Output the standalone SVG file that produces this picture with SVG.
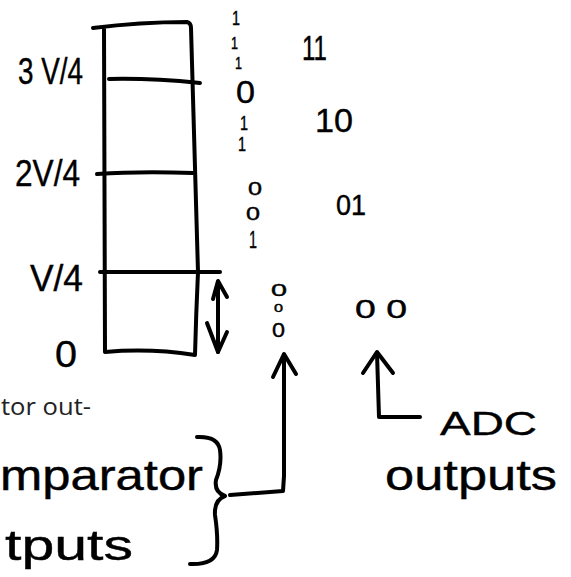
<svg xmlns="http://www.w3.org/2000/svg" width="571" height="577" viewBox="0 0 571 577">
<defs>
<style>
.ink{fill:none;stroke:#000;stroke-width:4;stroke-linecap:round;stroke-linejoin:round}
.hw{font-family:"Liberation Sans","DejaVu Sans",sans-serif;fill:#000;stroke:#000;stroke-width:0.4}
.print{font-family:"Open Sans","Noto Sans",sans-serif;fill:#222}
</style>
</defs>
<rect width="571" height="577" fill="#fff"/>
<g id="scale-box">
<path class="ink" d="M93 28 Q140 22 187 22 Q191 23 191 28 Q194 150 198 272 Q196 315 195 355 Q150 348 105 352 L104 28"/>
<path class="ink" d="M109 79 Q150 78 200 83"/>
<path class="ink" d="M97 174 Q140 171 193 173"/>
<path class="ink" d="M100 272 L220 272"/>
</g>
<g id="labels">
<text class="hw" x="18" y="84" font-size="36" textLength="65" lengthAdjust="spacingAndGlyphs">3 V/4</text>
<text class="hw" x="15" y="186" font-size="36" textLength="65" lengthAdjust="spacingAndGlyphs">2V/4</text>
<text class="hw" x="30" y="291" font-size="36" textLength="53" lengthAdjust="spacingAndGlyphs">V/4</text>
<text class="hw" x="55" y="367" font-size="36" textLength="22" lengthAdjust="spacingAndGlyphs">0</text>
</g>
<g id="thermo-11">
<text class="hw" x="232" y="25" font-size="21" textLength="8" lengthAdjust="spacingAndGlyphs">1</text>
<text class="hw" x="231" y="49" font-size="16" textLength="7" lengthAdjust="spacingAndGlyphs">1</text>
<text class="hw" x="235" y="69" font-size="17" textLength="7" lengthAdjust="spacingAndGlyphs">1</text>
<text class="hw" x="302" y="60" font-size="35" textLength="25" lengthAdjust="spacingAndGlyphs">11</text>
</g>
<g id="thermo-10">
<text class="hw" x="236" y="103" font-size="32" textLength="19" lengthAdjust="spacingAndGlyphs">0</text>
<text class="hw" x="240" y="130" font-size="21" textLength="8" lengthAdjust="spacingAndGlyphs">1</text>
<text class="hw" x="238" y="151" font-size="21" textLength="8" lengthAdjust="spacingAndGlyphs">1</text>
<text class="hw" x="315" y="132" font-size="34" textLength="38" lengthAdjust="spacingAndGlyphs">10</text>
</g>
<g id="thermo-01">
<text class="hw" x="248" y="195" font-size="18" textLength="14" lengthAdjust="spacingAndGlyphs">0</text>
<text class="hw" x="246" y="220" font-size="18" textLength="14" lengthAdjust="spacingAndGlyphs">0</text>
<text class="hw" x="249" y="248" font-size="24" textLength="8" lengthAdjust="spacingAndGlyphs">1</text>
<text class="hw" x="336" y="215" font-size="29" textLength="30" lengthAdjust="spacingAndGlyphs">01</text>
</g>
<g id="thermo-00">
<text class="hw" x="271" y="296" font-size="17" textLength="16" lengthAdjust="spacingAndGlyphs">0</text>
<text class="hw" x="274" y="312" font-size="11" textLength="9" lengthAdjust="spacingAndGlyphs">0</text>
<text class="hw" x="272" y="337" font-size="21" textLength="13" lengthAdjust="spacingAndGlyphs">0</text>
<text class="hw" x="355" y="318" font-size="25" textLength="52" lengthAdjust="spacingAndGlyphs">0 0</text>
</g>
<g id="comparator-label">
<text class="print" x="1" y="415" font-size="23" textLength="90" lengthAdjust="spacingAndGlyphs">tor out-</text>
<text class="hw" x="0" y="490" font-size="42" textLength="203" lengthAdjust="spacingAndGlyphs">mparator</text>
<text class="hw" x="5" y="560" font-size="42" textLength="128" lengthAdjust="spacingAndGlyphs">tputs</text>
<path class="ink" d="M197 437 Q218 436 220 450 Q222 465 216 480 Q214 492 225 496 Q214 500 215 515 Q218 535 217 550 Q215 565 190 564"/>
</g>
<g id="adc-label">
<text class="hw" x="440" y="435" font-size="34" textLength="97" lengthAdjust="spacingAndGlyphs">ADC</text>
<text class="hw" x="385" y="490" font-size="42" textLength="172" lengthAdjust="spacingAndGlyphs">outputs</text>
</g>
<g id="connectors">
<path class="ink" d="M218 282 L218 352"/>
<path class="ink" d="M213 299 L218 281 L227 297"/>
<path class="ink" d="M207 323 L218 352 L227 332"/>
<path class="ink" d="M230 495 L283 491 L284 476 L284 355"/>
<path class="ink" d="M273 377 L284 354 L296 374"/>
<path class="ink" d="M420 417 L379 417 L377 353"/>
<path class="ink" d="M363 373 L377 352 L393 373"/>
</g>
</svg>
